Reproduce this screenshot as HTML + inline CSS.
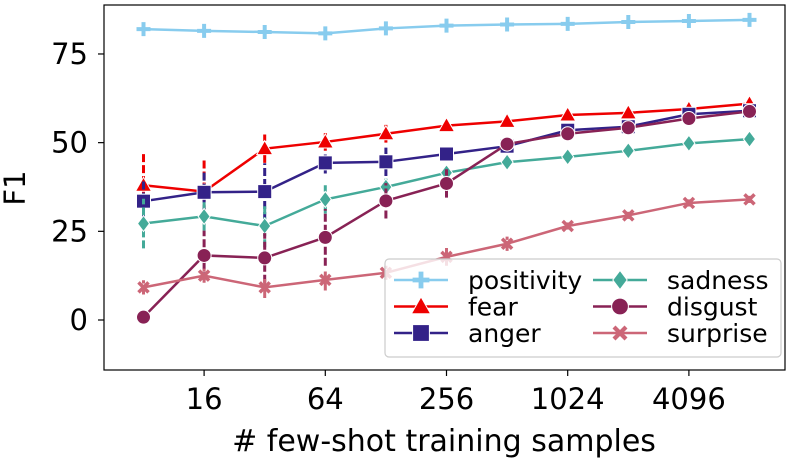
<!DOCTYPE html>
<html><head><meta charset="utf-8"><style>
body{margin:0;background:#fff;}
svg{display:block;font-family:"DejaVu Sans","Liberation Sans",sans-serif;}
</style></head><body>
<svg id="chart" width="799" height="465"></svg>
<script>
const xShots=[8,16,32,64,128,256,512,1024,2048,4096,8192];
const xTicks=[16,64,256,1024,4096];
const yTicks=[0,25,50,75];
const seriesNames=["positivity","fear","anger","sadness","disgust","surprise"];
const positivity=[82,81.5,81.2,80.8,82.2,83,83.3,83.5,84,84.3,84.6];
const fear=[38,36.2,48.3,50.2,52.5,54.8,56,57.8,58.4,59.5,61];
const anger=[33.5,36,36.2,44.3,44.6,46.8,49,53.5,54.5,58,59];
const sadness=[27.2,29.2,26.5,34,37.5,41.5,44.5,46,47.7,49.8,51];
const disgust=[0.8,18.2,17.5,23.3,33.6,38.5,49.6,52.5,54.2,56.8,58.8];
const surprise=[9.2,12.5,9.2,11.3,13.3,17.8,21.5,26.5,29.5,33,34];
const fearErr=[9,9,4,2.5,2.5,1,0.5,0.5,0.5,0.5,0.5];
const angerErr=[6,6,8,3,4,1.5,1,1,1,1,1];
const sadnessErr=[7,4,6,4,3,1.5,1,0.5,0.5,0.5,0.5];
const disgustErr=[1,7,7,8,5,4,1,1,1,1,1];
const surpriseErr=[2,2,3,3,2,2.5,2,1,1,1,1];
const positivityErr=[0.3,0.3,0.3,0.3,0.3,0.3,0.3,0.3,0.3,0.3,0.3];
const colors=["#88ccee","#ee0000","#332288","#44aa99","#882255","#cc6677"];
const markers=["plus","tri","sq","dia","circ","x"];
const data=[positivity,fear,anger,sadness,disgust,surprise];
const errs=[positivityErr,fearErr,angerErr,sadnessErr,disgustErr,surpriseErr];

const NS="http://www.w3.org/2000/svg";
const svg=document.getElementById('chart');
const L=104,R=785,T=5,B=370;
const xs=v=>143.5+(Math.log2(v)-3)*60.6;
const ys=v=>320-v*3.547;
function mk(tag,attrs,parent){const e=document.createElementNS(NS,tag);for(const k in attrs)e.setAttribute(k,attrs[k]);(parent||svg).appendChild(e);return e;}
function marker(type,x,y,c,g,s){
  s=s||1;let e;
  if(type==="plus"){e=mk('path',{d:`M${x-7*s},${y}H${x+7*s}M${x},${y-7*s}V${y+7*s}`,stroke:c,'stroke-width':4*s,fill:'none'},g);}
  else if(type==="tri"){e=mk('polygon',{points:`${x},${y-8*s} ${x+8*s},${y+6*s} ${x-8*s},${y+6*s}`,fill:c,stroke:'#fff','stroke-width':1},g);}
  else if(type==="sq"){e=mk('rect',{x:x-7*s,y:y-7*s,width:14*s,height:14*s,fill:c,stroke:'#fff','stroke-width':1},g);}
  else if(type==="dia"){e=mk('polygon',{points:`${x},${y-8*s} ${x+6*s},${y} ${x},${y+8*s} ${x-6*s},${y}`,fill:c,stroke:'#fff','stroke-width':1},g);}
  else if(type==="circ"){e=mk('circle',{cx:x,cy:y,r:7*s,fill:c,stroke:'#fff','stroke-width':1},g);}
  else {e=mk('path',{d:`M${x-5*s},${y-5*s}L${x+5*s},${y+5*s}M${x+5*s},${y-5*s}L${x-5*s},${y+5*s}`,stroke:c,'stroke-width':3.5*s,fill:'none'},g);}
  return e;
}
const frame=mk('rect',{x:L,y:T,width:R-L,height:B-T,fill:'none',stroke:'#000','stroke-width':1.2});

yTicks.forEach(v=>{
  const g=mk('g',{});
  
  mk('line',{x1:L-6,x2:L,y1:ys(v),y2:ys(v),stroke:'#000','stroke-width':1.2},g);
  const t=mk('text',{x:L-16,y:ys(v)+10,'text-anchor':'end','font-size':29},g);t.textContent=v;
});
xTicks.forEach(v=>{
  const g=mk('g',{});
  
  mk('line',{x1:xs(v),x2:xs(v),y1:B,y2:B+6,stroke:'#000','stroke-width':1.2},g);
  const t=mk('text',{x:xs(v),y:409,'text-anchor':'middle','font-size':29},g);t.textContent=v;
});
const xt=mk('text',{x:444,y:451,'text-anchor':'middle','font-size':30});xt.textContent="# few-shot training samples";

const yt=mk('text',{x:25,y:188,'text-anchor':'middle','font-size':29,transform:'rotate(-90 25 188)'});yt.textContent="F1";


data.forEach((arr,i)=>{
  const g=mk('g',{});
  
  arr.forEach((v,j)=>{
    const eb=mk('line',{x1:xs(xShots[j]),x2:xs(xShots[j]),y1:ys(v-errs[i][j]),y2:ys(v+errs[i][j]),stroke:colors[i],'stroke-width':3,'stroke-dasharray':'8 3'},g);
    
  });
  const pts=arr.map((v,j)=>xs(xShots[j])+','+ys(v)).join(' ');
  const pl=mk('polyline',{points:pts,fill:'none',stroke:colors[i],'stroke-width':2.5},g);
  
  arr.forEach((v,j)=>{
    const m=marker(markers[i],xs(xShots[j]),ys(v),colors[i],g);
    
  });
});
const lg=mk('g',{});

mk('rect',{x:385,y:259,width:396,height:98,rx:4,fill:'rgba(255,255,255,0.8)',stroke:'#ccc','stroke-width':1.2},lg);
seriesNames.forEach((n,i)=>{
  const col=i<3?0:1,row=i%3;
  const x0=col?593:394,yy=280+row*26.5;
  const e=mk('g',{},lg);
  
  mk('line',{x1:x0,x2:x0+54,y1:yy,y2:yy,stroke:colors[i],'stroke-width':2.5},e);
  marker(markers[i],x0+27,yy,colors[i],e,1.2);
  const t=mk('text',{x:x0+74,y:yy+9,'font-size':25},e);t.textContent=n;
});
</script>
</body></html>
